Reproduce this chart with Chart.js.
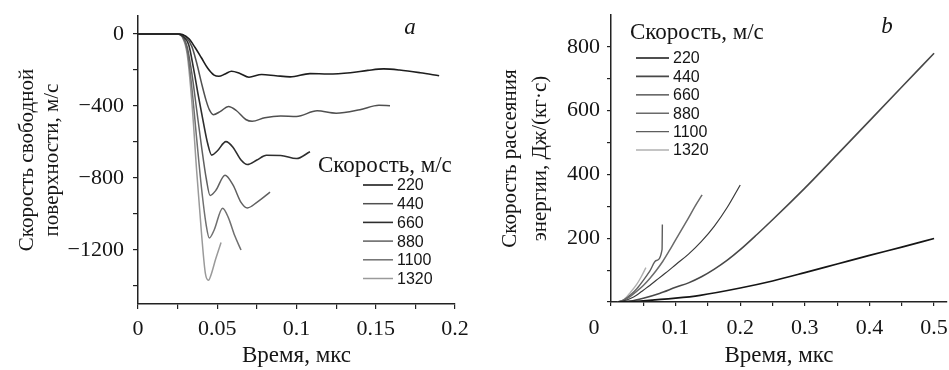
<!DOCTYPE html>
<html>
<head>
<meta charset="utf-8">
<script src="https://cdn.jsdelivr.net/npm/chart.js@4.4.1/dist/chart.umd.min.js"></script>
<style>
  body { margin: 0; background: #fff; }
  #wrapA, #wrapB { position: absolute; top: 0; width: 475px; height: 370px; }
  #wrapA { left: 0; }
  #wrapB { left: 474px; }
</style>
</head>
<body>
<div id="wrapA"><canvas id="chartA" width="475" height="370"></canvas></div>
<div id="wrapB"><canvas id="chartB" width="475" height="370"></canvas></div>
<script>
// speeds of the impactor, m/s
const speeds = [220, 440, 660, 880, 1100, 1320];

// panel a: free surface velocity vs time  [time, velocity]
const velA220 = [[0,0],[0.025,0],[0.028,-3],[0.032,-25],[0.036,-75],[0.040,-132],[0.044,-190],[0.048,-228],[0.051,-235],[0.055,-222],[0.059,-207],[0.064,-218],[0.070,-240],[0.078,-225],[0.087,-232],[0.096,-238],[0.1085,-220],[0.12,-222],[0.134,-215],[0.145,-202],[0.155,-194],[0.165,-200],[0.178,-215],[0.19,-232]];
const velA440 = [[0,0],[0.026,0],[0.030,-15],[0.034,-70],[0.037,-160],[0.040,-270],[0.043,-370],[0.045,-420],[0.0475,-448],[0.052,-430],[0.057,-403],[0.062,-425],[0.068,-475],[0.072,-485],[0.080,-465],[0.090,-455],[0.100,-458],[0.113,-427],[0.125,-440],[0.140,-421],[0.152,-396],[0.159,-398]];
const velA660 = [[0,0],[0.025,0],[0.028,-10],[0.032,-60],[0.035,-190],[0.038,-340],[0.041,-480],[0.044,-610],[0.0465,-673],[0.050,-650],[0.0555,-598],[0.060,-630],[0.065,-700],[0.069,-725],[0.075,-700],[0.081,-674],[0.090,-675],[0.100,-692],[0.1085,-654]];
const velA880 = [[0,0],[0.025,0],[0.028,-12],[0.031,-70],[0.034,-220],[0.037,-420],[0.040,-620],[0.043,-800],[0.0455,-897],[0.049,-870],[0.0549,-785],[0.060,-840],[0.065,-935],[0.069,-966],[0.075,-935],[0.0833,-878]];
const velA1100 = [[0,0],[0.025,0],[0.028,-15],[0.031,-90],[0.034,-300],[0.037,-580],[0.040,-850],[0.043,-1060],[0.045,-1133],[0.048,-1090],[0.0534,-968],[0.057,-1020],[0.061,-1120],[0.065,-1200]];
const velA1320 = [[0,0],[0.025,0],[0.028,-18],[0.031,-110],[0.034,-380],[0.037,-760],[0.040,-1100],[0.0425,-1330],[0.0445,-1368],[0.046,-1340],[0.049,-1250],[0.0524,-1158]];

// panel b: energy dissipation rate vs time  [time, rate]
const rateB220 = [[0.01,0],[0.05,4],[0.1,12],[0.138,21],[0.2,44],[0.25,66],[0.3,92],[0.35,119],[0.4,146],[0.45,172],[0.5,199]];
const rateB440 = [[0.01,0],[0.03,3],[0.05,12],[0.075,27],[0.1,46],[0.12,60],[0.14,79],[0.16,103],[0.18,131],[0.2,164],[0.225,210],[0.25,258],[0.275,307],[0.3,357],[0.35,462],[0.4,568],[0.45,674],[0.5,780]];
const rateB660 = [[0.01,0],[0.02,4],[0.03,11],[0.04,22],[0.05,37],[0.06,52],[0.07,68],[0.08,84],[0.09,100],[0.1,117],[0.12,150],[0.14,190],[0.16,238],[0.18,297],[0.2,367]];
const rateB880 = [[0.01,0],[0.02,6],[0.03,18],[0.04,34],[0.05,52],[0.06,74],[0.07,99],[0.08,127],[0.09,160],[0.1,195],[0.11,229],[0.12,264],[0.13,300],[0.141,336]];
const rateB1100 = [[0.01,0],[0.02,7],[0.03,22],[0.04,42],[0.05,68],[0.06,97],[0.07,130],[0.079,164],[0.0795,243]];
const rateB1320 = [[0.01,0],[0.02,8],[0.03,30],[0.04,56],[0.047,80],[0.054,108]];

// tick positions
const ticksAx = [0, 0.025, 0.05, 0.075, 0.1, 0.125, 0.15, 0.175, 0.2];
const ticksAy = [-1400, -1200, -1000, -800, -600, -400, -200, 0];
const ticksBx = [0, 0.05, 0.1, 0.15, 0.2, 0.25, 0.3, 0.35, 0.4, 0.45, 0.5];
const ticksBy = [0, 100, 200, 300, 400, 500, 600, 700, 800];

const seriesA = [velA220, velA440, velA660, velA880, velA1100, velA1320];
const seriesB = [rateB220, rateB440, rateB660, rateB880, rateB1100, rateB1320];

const colorsA = ['#1e1e1e', '#505050', '#2e2e2e', '#606060', '#707070', '#9a9a9a'];
const widthsA = [1.6, 1.5, 1.6, 1.5, 1.5, 1.5];
const colorsB = ['#151515', '#484848', '#3a3a3a', '#6a6a6a', '#5e5e5e', '#b0b0b0'];
const widthsB = [1.7, 1.6, 1.2, 1.5, 1.4, 1.4];

const serif = 'Liberation Serif';
const ink = '#151515';

// legend drawn inside the plot, built from the datasets
const speedLegend = {
  id: 'speedLegend',
  afterDraw(chart, args, opts) {
    const ctx = chart.ctx;
    ctx.save();
    ctx.fillStyle = ink;
    ctx.textBaseline = 'middle';
    ctx.textAlign = 'left';
    ctx.font = '23px "' + serif + '"';
    ctx.fillText(opts.title, opts.titleX, opts.titleY);
    ctx.font = '16px "Liberation Sans"';
    chart.data.datasets.forEach((ds, i) => {
      const y = opts.rowY + i * opts.rowH;
      ctx.strokeStyle = ds.borderColor;
      ctx.lineWidth = ds.borderWidth;
      ctx.beginPath();
      ctx.moveTo(opts.lineX, y);
      ctx.lineTo(opts.lineX + opts.lineW, y);
      ctx.stroke();
      ctx.fillText(ds.label, opts.lineX + opts.lineW + 4, y + 1);
    });
    (opts.notes || []).forEach(n => {
      ctx.font = n.font;
      ctx.textAlign = 'center';
      ctx.fillText(n.text, n.x, n.y);
    });
    ctx.restore();
  }
};

function fmtMinus(v) {
  return v < 0 ? '\u2212' + Math.abs(v) : String(v);
}

function makeScale(o) {
  return {
    type: 'linear',
    min: o.min,
    max: o.max,
    afterBuildTicks: s => { s.ticks = o.ticks.map(v => ({ value: v })); },
    afterFit: s => {
      if (o.width) s.width = o.width;
      if (o.height) s.height = o.height;
      s.paddingLeft = 0; s.paddingRight = 0; s.paddingTop = 0; s.paddingBottom = 0;
    },
    ticks: {
      callback: o.label,
      autoSkip: false,
      maxRotation: 0,
      padding: o.pad,
      color: ink,
      font: { family: serif, size: 22 }
    },
    grid: { drawOnChartArea: false, drawTicks: true, tickLength: o.tickLen, color: '#222', lineWidth: 1.2 },
    border: { display: true, color: '#222', width: 1.5 },
    title: {
      display: true,
      text: o.title,
      color: ink,
      font: { family: serif, size: o.titleSize, lineHeight: o.titleLH },
      padding: o.titlePad
    }
  };
}

function makeDatasets(series, colors, widths) {
  return series.map((pts, i) => ({
    label: String(speeds[i]),
    data: pts.map(p => ({ x: p[0], y: p[1] })),
    borderColor: colors[i],
    borderWidth: widths[i],
    pointRadius: 0,
    fill: false,
    cubicInterpolationMode: 'monotone'
  }));
}

new Chart(document.getElementById('chartA'), {
  type: 'line',
  data: { datasets: makeDatasets(seriesA, colorsA, widthsA) },
  options: {
    responsive: false,
    animation: false,
    layout: { padding: { top: 16, right: 20, bottom: 0, left: 0 } },
    scales: {
      x: makeScale({
        min: 0, max: 0.2, ticks: ticksAx, height: 66, pad: 7, tickLen: 5,
        label: v => (Math.round(v * 1000) % 50 === 0 ? String(+v.toFixed(3)) : ''),
        title: 'Время, мкс', titleSize: 23, titleLH: 1.2, titlePad: { top: 0, bottom: 0 }
      }),
      y: makeScale({
        min: -1500, max: 100, ticks: ticksAy, width: 138, pad: 9, tickLen: 5,
        label: v => (v % 400 === 0 ? fmtMinus(v) : ''),
        title: ['Скорость свободной', 'поверхности, м/с'], titleSize: 21, titleLH: 1.2, titlePad: { top: 15, bottom: 0 }
      })
    },
    plugins: {
      legend: { display: false },
      tooltip: { enabled: false },
      speedLegend: {
        title: 'Скорость, м/с', titleX: 318, titleY: 166,
        lineX: 363, lineW: 30, rowY: 185, rowH: 18.7,
        notes: [{ text: 'a', x: 410, y: 28, font: 'italic 23px "' + serif + '"' }]
      }
    }
  },
  plugins: [speedLegend]
});

new Chart(document.getElementById('chartB'), {
  type: 'line',
  data: { datasets: makeDatasets(seriesB, colorsB, widthsB) },
  options: {
    responsive: false,
    animation: false,
    layout: { padding: { top: 15, right: 2, bottom: 0, left: 0 } },
    scales: {
      x: makeScale({
        min: 0, max: 0.52, ticks: ticksBx, height: 68, pad: 9, tickLen: 4,
        label: v => (v !== 0 && Math.round(v * 100) % 10 === 0 ? String(+v.toFixed(2)) : ''),
        title: 'Время, мкс', titleSize: 23, titleLH: 1.2, titlePad: { top: 0, bottom: 0 }
      }),
      y: makeScale({
        min: 0, max: 900, ticks: ticksBy, width: 137, pad: 7, tickLen: 4,
        label: v => (v !== 0 && v % 200 === 0 ? String(v) : ''),
        title: ['Скорость рассеяния', 'энергии, Дж/(кг·с)'], titleSize: 21, titleLH: 1.45, titlePad: { top: 21, bottom: 0 }
      })
    },
    plugins: {
      legend: { display: false },
      tooltip: { enabled: false },
      speedLegend: {
        title: 'Скорость, м/с', titleX: 156, titleY: 33,
        lineX: 162, lineW: 33, rowY: 58, rowH: 18.4,
        notes: [
          { text: 'b', x: 413, y: 27, font: 'italic 23px "' + serif + '"' },
          { text: '0', x: 120, y: 328, font: '22px "' + serif + '"' }
        ]
      }
    }
  },
  plugins: [speedLegend]
});
</script>
</body>
</html>
